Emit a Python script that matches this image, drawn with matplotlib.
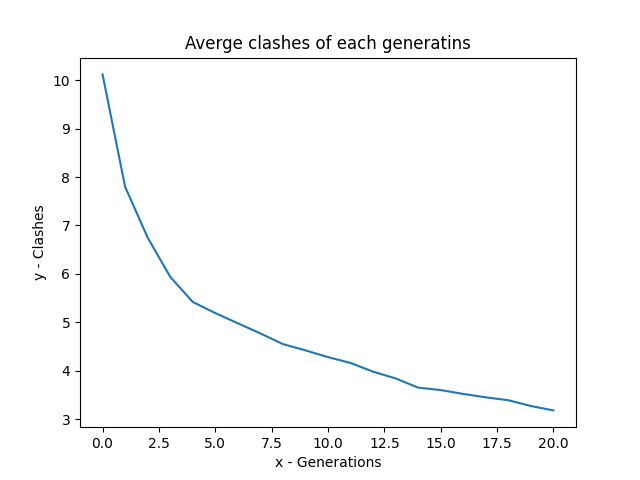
import matplotlib
matplotlib.use('Agg')
import matplotlib.pyplot as plt

generations = list(range(21))
clashes = [10.12, 7.80, 6.75, 5.94, 5.42, 5.19, 4.98, 4.77, 4.55, 4.42, 4.28,
           4.16, 3.98, 3.84, 3.65, 3.60, 3.52, 3.45, 3.39, 3.27, 3.18]

fig, ax = plt.subplots(figsize=(6.4, 4.8), dpi=100)
ax.plot(generations, clashes)
ax.set_xlabel('x - Generations')
ax.set_ylabel('y - Clashes')
ax.set_title('Averge clashes of each generatins')
fig.savefig('out.png')
